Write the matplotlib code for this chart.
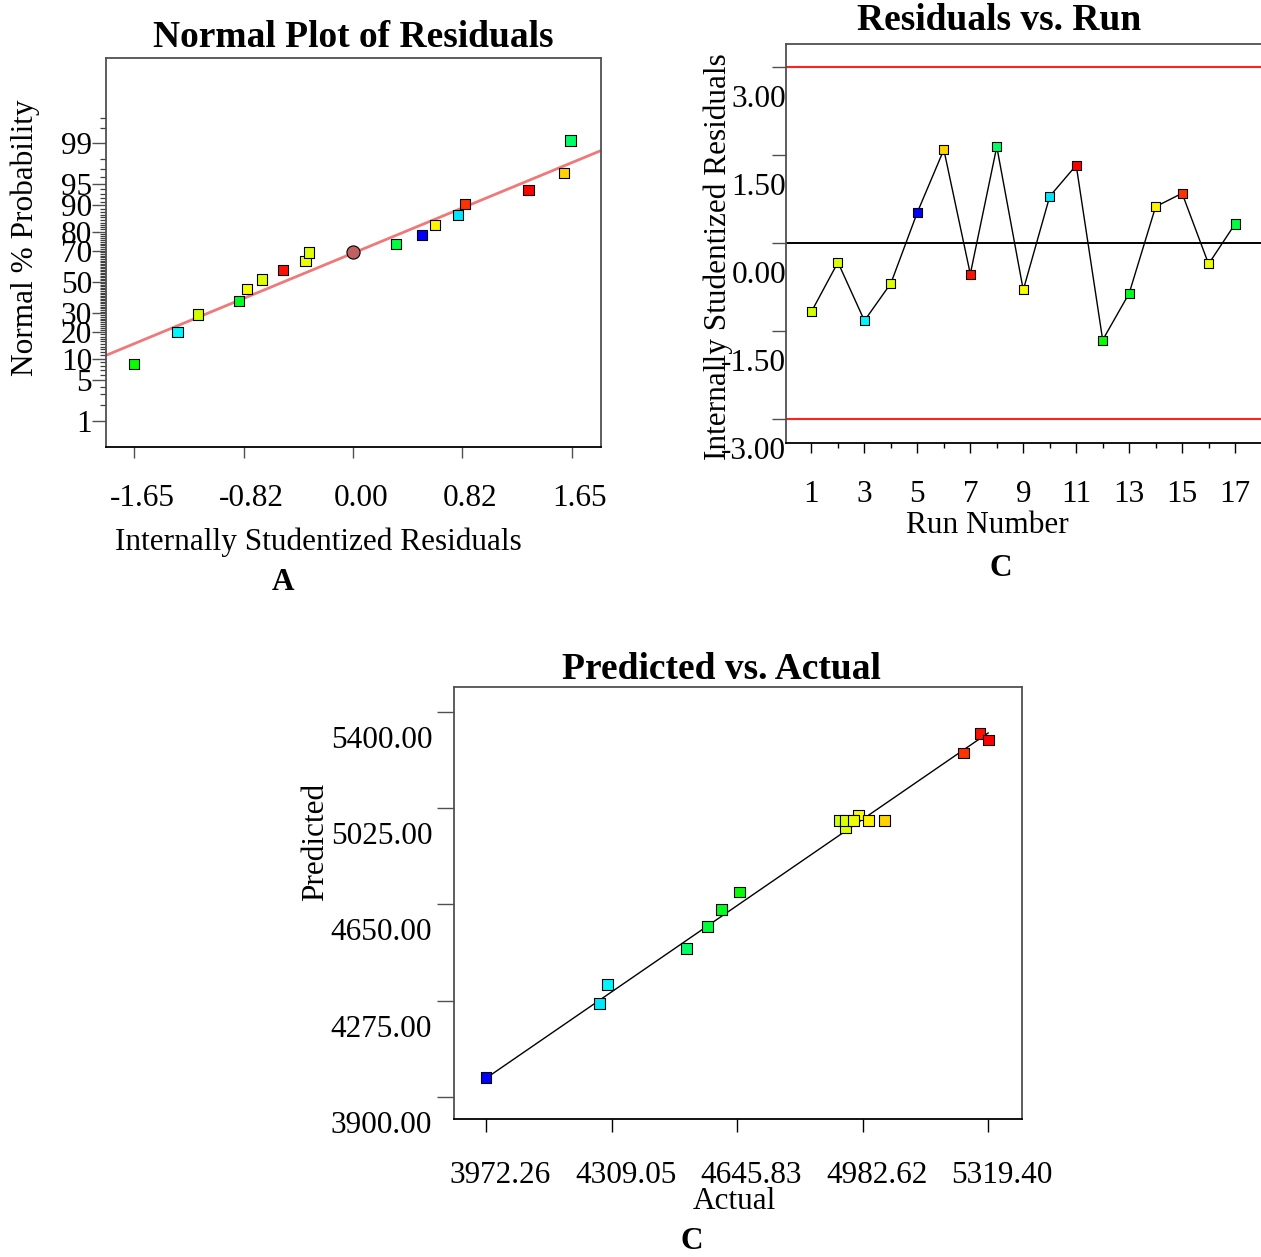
import numpy as np
import matplotlib
matplotlib.use("Agg")
import matplotlib.pyplot as plt
from matplotlib.colors import hsv_to_rgb
from matplotlib.transforms import ScaledTranslation
from statistics import NormalDist

plt.rcParams['font.family'] = ['Liberation Serif', 'DejaVu Serif']
plt.rcParams['axes.unicode_minus'] = False

# data per run
runs = np.arange(1, 18)
residuals = [-1.168, -0.329, -1.322, -0.686, 0.522, 1.588, -0.528, 1.639, -0.800,
             0.794, 1.322, -1.651, -0.857, 0.618, 0.845, -0.357, 0.323]
actual = [4921.3, 4937.4, 4298.8, 4937.4, 3972.26, 5040.3, 5297.7, 4509.8, 4971.7,
          4276.8, 5319.40, 4651.9, 4604.4, 4997.9, 5253.2, 4957.5, 4565.3]
predicted = [4978.4, 4949.6, 4338.6, 4978.4, 3975.7, 4978.4, 5316.3, 4477.5, 4999.0,
             4264.4, 5291.7, 4698.7, 4631.2, 4978.4, 5241.0, 4978.4, 4563.3]

# normal plot, probabilities of the sorted residuals
normal_pct = [8.6, 20.1, 29.4, 37.7, 45.1, 51.7, 57.9, 63.6, 68.9,
              73.9, 78.5, 82.9, 86.8, 90.4, 93.8, 96.6, 99.1]
center_res, center_pct = 0.0, 68.9
fit_x = [-1.861, 1.869]
fit_pct = [11.0, 98.6]
prob_ticks = [1, 5, 10, 20, 30, 50, 70, 80, 90, 95, 99]
norm_xticks = [-1.65, -0.825, 0.0, 0.825, 1.65]
norm_xlabels = ['-1.65', '-0.82', '0.00', '0.82', '1.65']

run_yticks = [-3.0, -1.5, 0.0, 1.5, 3.0]
run_ylabels = ['-3.00', '-1.50', '0.00', '1.50', '3.00']
limit = 3.0

act_ticks = [3972.26, 4309.05, 4645.83, 4982.62, 5319.40]
pred_ticks = [3900, 4275, 4650, 5025, 5400]

nd = NormalDist()
def z(p):
    return np.array([nd.inv_cdf(v / 100.0) for v in np.atleast_1d(p)])

# colour by actual value, blue -> red
act = np.array(actual)
t = (act - act.min()) / (act.max() - act.min())
colors = hsv_to_rgb(np.c_[(1 - t) * 2 / 3, np.ones(17), np.ones(17)])

fig = plt.figure(figsize=(12.61, 12.57), dpi=100)
ax1 = fig.add_axes([0.0841, 0.6444, 0.3925, 0.3095])
ax2 = fig.add_axes([0.6233, 0.6476, 0.3767, 0.3174])
ax3 = fig.add_axes([0.3598, 0.1098, 0.4504, 0.3434])

def shift(labels, dx, dy):
    for lab in labels:
        lab.set_transform(lab.get_transform() + ScaledTranslation(dx / 100, -dy / 100, fig.dpi_scale_trans))

for ax in (ax1, ax2, ax3):
    for s in ax.spines.values():
        s.set_color('#505050')
        s.set_linewidth(1.3)
    ax.spines['bottom'].set_color('black')

# ---- Normal plot ----
order = np.argsort(residuals)
ax1.plot(fit_x, z(fit_pct), color='#f07878', lw=2, zorder=2)
ax1.scatter(np.array(residuals)[order], z(normal_pct), marker='s', s=55,
            c=colors[order], edgecolors='black', linewidths=0.8, zorder=3)
ax1.scatter([center_res], z([center_pct]), marker='o', s=90, c='#c06060',
            edgecolors='black', linewidths=0.8, zorder=3)
ax1.set_xlim(-1.861, 1.869)
ax1.set_ylim(-2.759, 3.746)
ax1.set_xticks(norm_xticks)
ax1.set_xticklabels(norm_xlabels)
ax1.set_yticks(z(prob_ticks))
ax1.set_yticklabels([str(p) for p in prob_ticks])
minor_pct = [p for p in range(2, 99) if p not in prob_ticks] + [99.5, 99.7]
ax1.set_yticks(z(minor_pct), minor=True)
ax1.tick_params(axis='x', length=8, width=1, color='#505050', labelsize=22.5, pad=19)
ax1.tick_params(axis='y', which='major', length=10, width=1, color='#505050', labelsize=22.5, pad=0)
ax1.tick_params(axis='y', which='minor', length=4.5, width=0.9, color='#404040')
shift(ax1.get_xticklabels(), 8, 0)
ax1.set_title('Normal Plot of Residuals', fontsize=27, fontweight='bold', pad=8)
ax1.set_ylabel('Normal % Probability', fontsize=22.5)
ax1.yaxis.set_label_coords(-0.133, 0.537)
ax1.set_xlabel('Internally Studentized Residuals', fontsize=22.5)
ax1.xaxis.set_label_coords(0.428, -0.208)

# ---- Residuals vs Run ----
ax2.axhline(limit, color='#ff2020', lw=1.5, zorder=1)
ax2.axhline(-limit, color='#ff2020', lw=1.5, zorder=1)
ax2.axhline(0, color='black', lw=1.4, zorder=1)
ax2.plot(runs, residuals, color='black', lw=1, zorder=2)
ax2.scatter(runs, residuals, marker='s', s=42, c=colors, edgecolors='black',
            linewidths=0.8, zorder=3)
ax2.set_xlim(0.037, 17.98)
ax2.set_ylim(-3.403, 3.386)
ax2.spines['right'].set_visible(False)
ax2.set_xticks(runs[::2])
ax2.set_xticks(runs[1::2], minor=True)
ax2.set_yticks(run_yticks)
ax2.set_yticklabels(run_ylabels)
ax2.tick_params(axis='x', which='major', length=7, width=1, labelsize=22.5, pad=20)
ax2.tick_params(axis='x', which='minor', length=3.5, width=1)
ax2.tick_params(axis='y', length=10, width=1, color='#505050', labelsize=22.5, pad=0)
shift(ax2.get_yticklabels(), 14, 29)
ax2.set_title('Residuals vs. Run', fontsize=27, fontweight='bold', pad=10, x=0.448)
ax2.set_ylabel('Internally Studentized Residuals', fontsize=22.5)
ax2.yaxis.set_label_coords(-0.112, 0.466)
ax2.set_xlabel('Run Number', fontsize=22.5)
ax2.xaxis.set_label_coords(0.425, -0.170)

# ---- Predicted vs Actual ----
ax3.plot([min(actual), max(actual)], [min(actual), max(actual)], color='black', lw=1, zorder=2)
ax3.scatter(actual, predicted, marker='s', s=60, c=colors, edgecolors='black',
            linewidths=0.8, zorder=3)
ax3.set_xlim(3885.3, 5409.3)
ax3.set_ylim(3813, 5497.5)
ax3.set_xticks(act_ticks)
ax3.set_xticklabels(['%.2f' % v for v in act_ticks])
ax3.set_yticks(pred_ticks)
ax3.set_yticklabels(['%.2f' % v for v in pred_ticks])
ax3.tick_params(axis='x', length=9, width=1, labelsize=22.5, pad=21)
ax3.tick_params(axis='y', length=12, width=1, color='#505050', labelsize=22.5, pad=3.5)
shift(ax3.get_xticklabels(), 14, 0)
shift(ax3.get_yticklabels(), 0, 25)
ax3.set_title('Predicted vs. Actual', fontsize=27, fontweight='bold', pad=2, x=0.472)
ax3.set_ylabel('Predicted', fontsize=22.5)
ax3.yaxis.set_label_coords(-0.218, 0.642)
ax3.set_xlabel('Actual', fontsize=22.5)
ax3.xaxis.set_label_coords(0.4935, -0.1575)

fig.text(0.2244, 0.5362, 'A', fontsize=22.5, fontweight='bold', ha='center', va='center')
fig.text(0.7938, 0.5481, 'C', fontsize=22.5, fontweight='bold', ha='center', va='center')
fig.text(0.5488, 0.0127, 'C', fontsize=22.5, fontweight='bold', ha='center', va='center')

fig.savefig('out.png', dpi=100)
